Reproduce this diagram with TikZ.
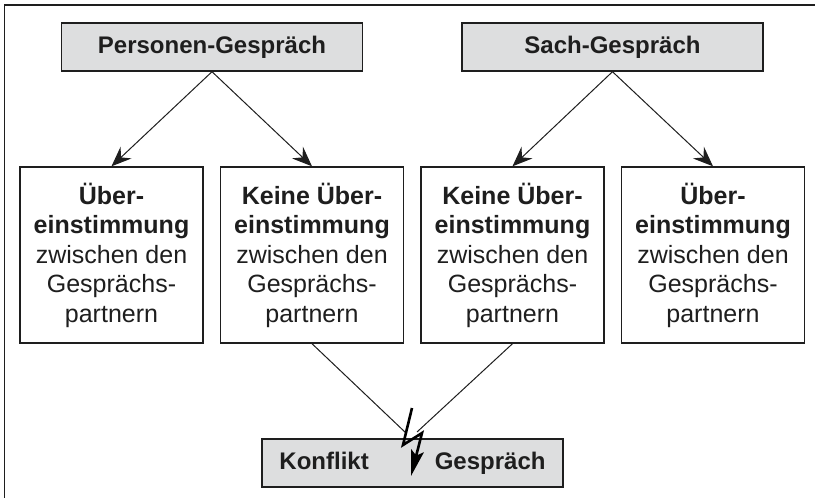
\documentclass[tikz,border=0pt]{standalone}
\usepackage{fontspec}
\setmainfont{Liberation Sans}
\usetikzlibrary{arrows.meta}
\definecolor{boxgray}{RGB}{221,222,223}
\definecolor{ink}{RGB}{30,30,30}
\tikzset{
  titlebox/.style={draw=ink, line width=1.4pt, fill=boxgray, minimum width=301pt, minimum height=48pt, inner sep=0pt, font=\fontsize{24}{29}\selectfont\bfseries, text=ink},
  infobox/.style={draw=ink, line width=1.4pt, fill=white, minimum width=183pt, minimum height=176pt, inner sep=0pt, align=center, font=\fontsize{25}{29.5}\selectfont, text=ink},
  conn/.style={draw=ink, line width=1pt, -{Stealth[length=20pt,width=16pt,inset=7pt]}},
  plain/.style={draw=ink, line width=1pt},
  bolt/.style={draw=black, line width=2.6pt, line join=miter, -{Stealth[length=26pt,width=13pt,inset=5pt]}}
}
\begin{document}
\begin{tikzpicture}[x=1pt,y=-1pt]
\useasboundingbox (0,0) rectangle (815,498);
\draw[ink, line width=1.5pt] (4.5,498) -- (4.5,5) -- (815,5);

\node[titlebox] (P) at (212,47) {Personen-Gespräch};
\node[titlebox] (S) at (612.5,47) {Sach-Gespräch};

\node[infobox] (b1) at (111.5,255) {\textbf{Über-}\\\textbf{einstimmung}\\zwischen den\\Gesprächs-\\partnern};
\node[infobox] (b2) at (312,255) {\textbf{Keine Über-}\\\textbf{einstimmung}\\zwischen den\\Gesprächs-\\partnern};
\node[infobox] (b3) at (512.5,255) {\textbf{Keine Über-}\\\textbf{einstimmung}\\zwischen den\\Gesprächs-\\partnern};
\node[infobox] (b4) at (713,255) {\textbf{Über-}\\\textbf{einstimmung}\\zwischen den\\Gesprächs-\\partnern};

\node[titlebox] (K) at (412.5,463) {Konflikt\hspace{66pt}Gespräch};

\draw[conn] (P.south) -- (b1.north);
\draw[conn] (P.south) -- (b2.north);
\draw[conn] (S.south) -- (b3.north);
\draw[conn] (S.south) -- (b4.north);

\coordinate (m1) at (406,433);
\coordinate (m2) at (417,432);
\draw[plain] (b2.south) -- (m1);
\draw[plain] (b3.south) -- (m2);

\coordinate (z1) at (412,408);
\coordinate (z2) at (403,445);
\coordinate (z3) at (422,433);
\coordinate (z4) at (411,476);
\draw[bolt] (z1) -- (z2) -- (z3) -- (z4);
\end{tikzpicture}
\end{document}
